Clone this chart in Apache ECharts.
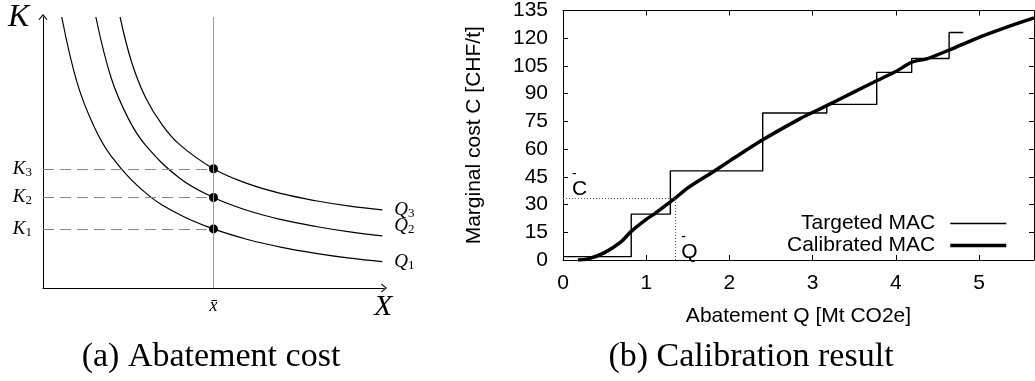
<!DOCTYPE html>
<html>
<head>
<meta charset="utf-8">
<script src="https://cdn.jsdelivr.net/npm/echarts@6/dist/echarts.min.js"></script>
<style>
  html, body { margin: 0; padding: 0; background: #fff; }
  #main { width: 1035px; height: 381px; }
</style>
</head>
<body>
<div id="main"></div>
<script>
// (a) isoquants in axis units (X and K both 0..10)
const q1 = [[0.55, 10], [1, 7.58], [1.5, 5.95], [2, 4.87], [3, 3.52], [4, 2.71], [5, 2.18], [6, 1.79], [7, 1.5], [8, 1.28], [9, 1.1], [9.95, 0.97]];
const q2 = [[1.55, 10], [2, 7.75], [2.5, 6.26], [3, 5.28], [4, 4.06], [5, 3.34], [6, 2.86], [7, 2.52], [8, 2.27], [9, 2.07], [9.95, 1.92]];
const q3 = [[2.26, 10], [2.6, 8.33], [3, 7.05], [3.5, 6.01], [4, 5.3], [5, 4.4], [6, 3.85], [7, 3.48], [8, 3.22], [9, 3.02], [9.95, 2.88]];
const xBar = 5;
const kLevels = [2.18, 3.34, 4.4];
const subs = ['1', '2', '3'];

// (b) calibration result
const stepQ = [0, 0.82, 1.29, 2.4, 3.17, 3.77, 4.19, 4.64, 4.81];
const stepC = [1.8, 24.8, 48.2, 79.5, 84.2, 101.5, 109, 123.1, 123.1];
const calQ = [0.18, 0.3, 0.5, 0.7, 0.82, 1.0, 1.1, 1.29, 1.35, 1.5, 1.82, 2.0, 2.4, 2.85, 3.17, 3.5, 3.77, 4.0, 4.19, 4.38, 4.64, 5.0, 5.3, 5.66];
const calC = [0, 0.6, 4, 10, 15.5, 22, 25, 31.5, 33.5, 39, 48.2, 53.5, 65, 76.5, 83.5, 91, 97, 102, 107, 109, 113.6, 120.5, 125.5, 131];
const qBar = 1.35;
const cBar = 33.5;

const sans = 'Liberation Sans';
const serif = 'Liberation Serif';
const chevron = 'path://M5,0L10,6L9,6.6L5,1.8L1,6.6L0,6Z';

const subRich = {
  k: { fontFamily: serif, fontStyle: 'italic', fontSize: 19, lineHeight: 20, color: '#000' },
  s: { fontFamily: serif, fontSize: 13, lineHeight: 8, verticalAlign: 'bottom', color: '#000' }
};
const barRich = {
  m: { fontFamily: sans, fontSize: 14, lineHeight: 8, color: '#000' },
  t: { fontFamily: sans, fontSize: 21, lineHeight: 22, color: '#000' }
};

function zip(a, b) { return a.map((v, i) => [v, b[i]]); }

function isoquant(data, i, shift) {
  return {
    type: 'line', xAxisIndex: 0, yAxisIndex: 0,
    data: data, smooth: 0.4, symbol: 'none', silent: true,
    lineStyle: { color: '#000', width: 1.2 },
    endLabel: {
      show: true, distance: 12, offset: [0, shift],
      formatter: () => '{k|Q}{s|' + subs[i] + '}', rich: subRich
    }
  };
}

const chart = echarts.init(document.getElementById('main'));
chart.setOption({
  animation: false,
  grid: [
    { left: 43, top: 17, width: 341, height: 271 },
    { left: 563, top: 10, width: 471, height: 250 }
  ],
  legend: {
    data: [
      { name: 'Targeted MAC', lineStyle: { width: 1.4, color: '#000' } },
      { name: 'Calibrated MAC', lineStyle: { width: 3.5, color: '#000' } }
    ],
    orient: 'vertical', align: 'right', right: 27, top: 213, padding: 0,
    itemWidth: 56, itemHeight: 12, itemGap: 1, selectedMode: false,
    itemStyle: { color: 'transparent', borderColor: 'transparent', opacity: 0 },
    textStyle: { fontFamily: sans, fontSize: 21, color: '#000', lineHeight: 19, padding: [0, 10, 0, 0] }
  },
  xAxis: [
    {
      gridIndex: 0, type: 'value', min: 0, max: 10, interval: 5,
      axisLine: { show: true, onZero: false, symbol: ['none', chevron], symbolSize: [9, 6], lineStyle: { color: '#000', width: 1 } },
      axisTick: { show: false }, splitLine: { show: false },
      axisLabel: {
        margin: 9, fontFamily: serif, fontStyle: 'italic', fontSize: 18, color: '#000',
        formatter: v => (v === xBar ? 'x\u0304' : '')
      }
    },
    {
      gridIndex: 1, type: 'value', min: 0, max: 5.66, interval: 1,
      name: 'Abatement Q [Mt CO2e]', nameLocation: 'middle', nameGap: 46,
      nameTextStyle: { fontFamily: sans, fontSize: 21, color: '#000' },
      axisLine: { show: true, onZero: false, lineStyle: { color: '#000', width: 1 } },
      axisTick: { show: true, inside: true, length: 5, lineStyle: { color: '#000' } },
      splitLine: { show: false },
      axisLabel: { margin: 13, fontFamily: sans, fontSize: 21, color: '#000', showMaxLabel: false }
    },
    {
      gridIndex: 1, type: 'value', min: 0, max: 5.66, interval: 1, position: 'top',
      axisLine: { show: true, onZero: false, lineStyle: { color: '#000', width: 1 } },
      axisTick: { show: true, inside: true, length: 5, lineStyle: { color: '#000' } },
      splitLine: { show: false }, axisLabel: { show: false }
    }
  ],
  yAxis: [
    {
      gridIndex: 0, type: 'value', min: 0, max: 10, interval: 5,
      axisLine: { show: true, onZero: false, symbol: ['none', chevron], symbolSize: [9, 6], lineStyle: { color: '#000', width: 1 } },
      axisTick: { show: false }, splitLine: { show: false }, axisLabel: { show: false }
    },
    {
      gridIndex: 1, type: 'value', min: 0, max: 135, interval: 15,
      name: 'Marginal cost C [CHF/t]', nameLocation: 'middle', nameGap: 78, nameRotate: 90,
      nameTextStyle: { fontFamily: sans, fontSize: 21, color: '#000' },
      axisLine: { show: true, onZero: false, lineStyle: { color: '#000', width: 1 } },
      axisTick: { show: true, inside: true, length: 5, lineStyle: { color: '#000' } },
      splitLine: { show: false },
      axisLabel: { margin: 15, fontFamily: sans, fontSize: 21, color: '#000' }
    },
    {
      gridIndex: 1, type: 'value', min: 0, max: 135, interval: 15, position: 'right',
      axisLine: { show: true, onZero: false, lineStyle: { color: '#000', width: 1 } },
      axisTick: { show: true, inside: true, length: 5, lineStyle: { color: '#000' } },
      splitLine: { show: false }, axisLabel: { show: false }
    }
  ],
  series: [
    // guides of panel (a)
    {
      type: 'line', xAxisIndex: 0, yAxisIndex: 0, data: [], silent: true,
      markLine: {
        silent: true, symbol: ['none', 'none'], animation: false,
        data: [
          [{ xAxis: xBar, yAxis: 0, lineStyle: { color: '#999', width: 1, type: 'solid' }, label: { show: false } },
           { xAxis: xBar, yAxis: 10 }]
        ].concat(kLevels.map((k, i) => [
          {
            coord: [0, k], name: subs[i],
            lineStyle: { color: '#888', width: 1, type: [11, 6] },
            label: { show: true, position: 'start', distance: 11, formatter: p => '{k|K}{s|' + p.name + '}', rich: subRich }
          },
          { coord: [xBar, k] }
        ]))
      }
    },
    isoquant(q1, 0, 0),
    isoquant(q2, 1, -10),
    isoquant(q3, 2, 0),
    {
      type: 'scatter', xAxisIndex: 0, yAxisIndex: 0, silent: true,
      data: kLevels.map(k => [xBar, k]), symbolSize: 9,
      itemStyle: { color: '#000', opacity: 1 }
    },
    // panel (b)
    {
      name: 'Targeted MAC', type: 'line', xAxisIndex: 1, yAxisIndex: 1,
      data: zip(stepQ, stepC), step: 'end', symbol: 'none',
      lineStyle: { color: '#000', width: 1.4 }, itemStyle: { color: '#000' }
    },
    {
      name: 'Calibrated MAC', type: 'line', xAxisIndex: 1, yAxisIndex: 1,
      data: zip(calQ, calC), smooth: 0.3, symbol: 'none',
      lineStyle: { color: '#000', width: 3.5 }, itemStyle: { color: '#000' },
      markLine: {
        silent: true, symbol: ['none', 'none'], animation: false,
        lineStyle: { color: '#555', width: 1, type: [1, 2] }, label: { show: false },
        data: [
          [{ coord: [0, cBar] }, { coord: [qBar, cBar] }],
          [{ coord: [qBar, 0] }, { coord: [qBar, cBar] }]
        ]
      }
    },
    {
      type: 'scatter', xAxisIndex: 1, yAxisIndex: 1, silent: true, symbolSize: 0,
      itemStyle: { opacity: 1 },
      data: [
        { value: [0, cBar], label: { distance: 9, offset: [0, 2], formatter: '{m|-}\n{t|C}' } },
        { value: [qBar, 0], label: { distance: 6, offset: [0, 3], formatter: '{m|-}\n{t|Q}' } }
      ],
      label: { show: true, position: 'right', align: 'left', verticalAlign: 'bottom', color: '#000', rich: barRich }
    }
  ],
  graphic: [
    { type: 'text', left: 8, top: 2, style: { text: 'K', fontFamily: serif, fontStyle: 'italic', fontSize: 32, fill: '#000' } },
    { type: 'text', left: 374, top: 292, style: { text: 'X', fontFamily: serif, fontStyle: 'italic', fontSize: 30, fill: '#000' } },
    { type: 'text', x: 211, y: 357, style: { text: '(a) Abatement cost', fontFamily: serif, fontSize: 34, fill: '#000', align: 'center', verticalAlign: 'middle' } },
    { type: 'text', x: 751, y: 357, style: { text: '(b) Calibration result', fontFamily: serif, fontSize: 34, fill: '#000', align: 'center', verticalAlign: 'middle' } }
  ]
});
</script>
</body>
</html>
